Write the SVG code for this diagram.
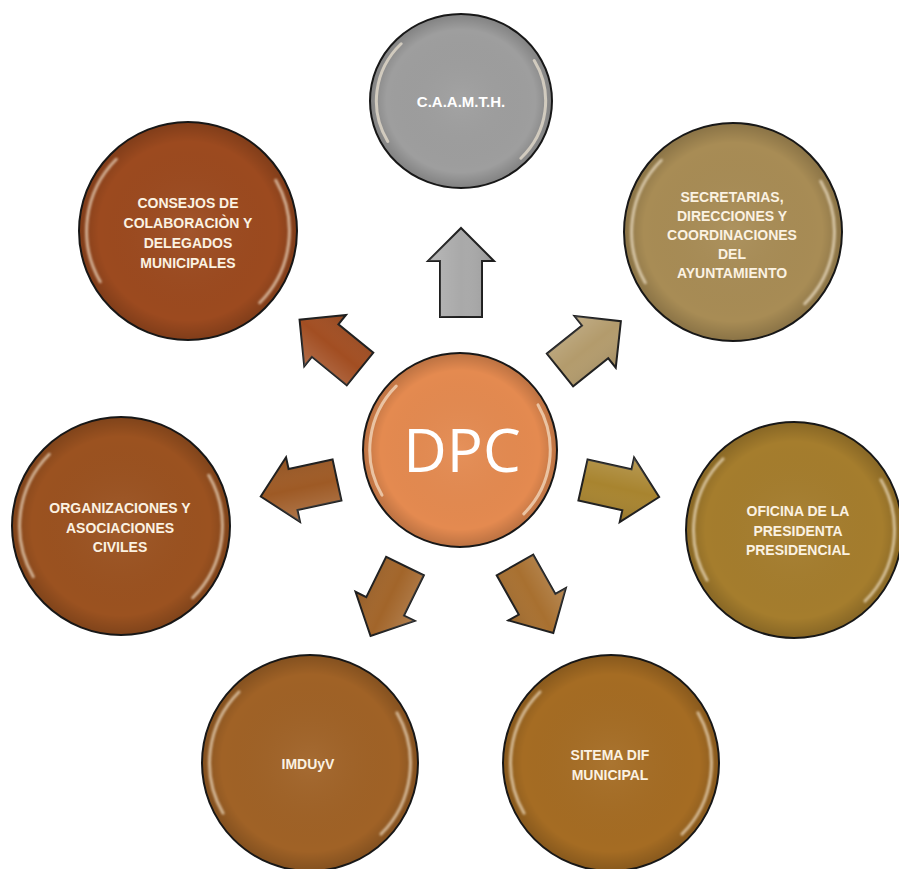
<svg xmlns="http://www.w3.org/2000/svg" xmlns:xlink="http://www.w3.org/1999/xlink" width="899" height="869" viewBox="0 0 899 869">
<defs>
<style>
.node{stroke:#1a1a1a;stroke-width:2}
.lbl{font-family:"Liberation Sans",Arial,sans-serif;font-size:14px;font-weight:bold;fill:#fbf2e2;text-anchor:middle}
.arrow{stroke:#1f1f1f;stroke-width:2;stroke-linejoin:miter}
.gloss{fill:none;stroke:#fff3df;stroke-opacity:0.6;stroke-width:3;stroke-linecap:round}
</style>
<radialGradient id="shade" cx="0.5" cy="0.5" r="0.5">
<stop offset="0" stop-color="#ffffff" stop-opacity="0.06"/>
<stop offset="0.82" stop-color="#000000" stop-opacity="0"/>
<stop offset="1" stop-color="#000000" stop-opacity="0.18"/>
</radialGradient>
<linearGradient id="sheen" x1="0" y1="0" x2="0" y2="1">
<stop offset="0" stop-color="#ffffff" stop-opacity="0.18"/>
<stop offset="0.5" stop-color="#ffffff" stop-opacity="0"/>
<stop offset="1" stop-color="#000000" stop-opacity="0.12"/>
</linearGradient>
<filter id="soft" x="-20%" y="-20%" width="140%" height="140%"><feGaussianBlur stdDeviation="0.8"/></filter>
<path id="glossArcs" d="M -80.5 46.5 A 93 93 0 0 1 -65.8 -65.8 M 80.5 -46.5 A 93 93 0 0 1 65.8 65.8" vector-effect="non-scaling-stroke"/>
<path id="arrowShort" d="M0,-21 L45,-21 L45,-33 L78,0 L45,33 L45,21 L0,21 Z"/>
<path id="arrowUp" d="M0,-21 L56,-21 L56,-33 L89,0 L56,33 L56,21 L0,21 Z"/>
</defs>
<rect width="899" height="869" fill="#ffffff"/>

<g id="connectors">
<g transform="translate(461,317) rotate(-90)"><use xlink:href="#arrowUp" class="arrow" fill="#a9a9a9"/><use xlink:href="#arrowUp" fill="url(#sheen)"/></g>
<g transform="translate(360,369) rotate(-140.8)"><use xlink:href="#arrowShort" class="arrow" fill="#a24e22"/><use xlink:href="#arrowShort" fill="url(#sheen)"/></g>
<g transform="translate(560,370) rotate(-38.7)"><use xlink:href="#arrowShort" class="arrow" fill="#b39b6c"/><use xlink:href="#arrowShort" fill="url(#sheen)"/></g>
<g transform="translate(337,480) rotate(167.8)"><use xlink:href="#arrowShort" class="arrow" fill="#9e5a25"/><use xlink:href="#arrowShort" fill="url(#sheen)"/></g>
<g transform="translate(583,480) rotate(12.6)"><use xlink:href="#arrowShort" class="arrow" fill="#a8842f"/><use xlink:href="#arrowShort" fill="url(#sheen)"/></g>
<g transform="translate(405,566) rotate(116.2)"><use xlink:href="#arrowShort" class="arrow" fill="#a2652a"/><use xlink:href="#arrowShort" fill="url(#sheen)"/></g>
<g transform="translate(515,565) rotate(60.6)"><use xlink:href="#arrowShort" class="arrow" fill="#a87030"/><use xlink:href="#arrowShort" fill="url(#sheen)"/></g>
</g>

<g id="node-caamth">
<ellipse cx="461" cy="101" rx="91" ry="87" class="node" fill="#9e9e9e"/>
<ellipse cx="461" cy="101" rx="91" ry="87" fill="url(#shade)"/>
<use xlink:href="#glossArcs" class="gloss" filter="url(#soft)" transform="translate(461,101) scale(0.91,0.87)"/>
<text class="lbl" x="461" y="107" style="font-size:15px;fill:#ffffff">C.A.A.M.T.H.</text>
</g>

<g id="node-consejos">
<circle cx="188" cy="231" r="109" class="node" fill="#9c4a1f"/>
<circle cx="188" cy="231" r="109" fill="url(#shade)"/>
<use xlink:href="#glossArcs" class="gloss" filter="url(#soft)" transform="translate(188,231) scale(1.09)"/>
<text class="lbl" x="188" y="208">CONSEJOS DE</text>
<text class="lbl" x="188" y="228">COLABORACIÒN Y</text>
<text class="lbl" x="188" y="248">DELEGADOS</text>
<text class="lbl" x="188" y="268">MUNICIPALES</text>
</g>

<g id="node-secretarias">
<circle cx="733" cy="232" r="109" class="node" fill="#a88c55"/>
<circle cx="733" cy="232" r="109" fill="url(#shade)"/>
<use xlink:href="#glossArcs" class="gloss" filter="url(#soft)" transform="translate(733,232) scale(1.09)"/>
<text class="lbl" x="732" y="202">SECRETARIAS,</text>
<text class="lbl" x="732" y="221">DIRECCIONES Y</text>
<text class="lbl" x="732" y="240">COORDINACIONES</text>
<text class="lbl" x="732" y="259">DEL</text>
<text class="lbl" x="732" y="278">AYUNTAMIENTO</text>
</g>

<g id="node-dpc">
<circle cx="460" cy="450" r="97" class="node" fill="#e48a50"/>
<circle cx="460" cy="450" r="97" fill="url(#shade)"/>
<use xlink:href="#glossArcs" class="gloss" filter="url(#soft)" transform="translate(460,450) scale(0.97)"/>
<text x="462" y="472" style="font-family:'Open Sans','Liberation Sans',sans-serif;font-size:60px;fill:#ffffff;text-anchor:middle">DPC</text>
</g>

<g id="node-organizaciones">
<circle cx="121" cy="526" r="109" class="node" fill="#9b5220"/>
<circle cx="121" cy="526" r="109" fill="url(#shade)"/>
<use xlink:href="#glossArcs" class="gloss" filter="url(#soft)" transform="translate(121,526) scale(1.09)"/>
<text class="lbl" x="120" y="513">ORGANIZACIONES Y</text>
<text class="lbl" x="120" y="533">ASOCIACIONES</text>
<text class="lbl" x="120" y="552">CIVILES</text>
</g>

<g id="node-oficina">
<circle cx="794" cy="530" r="108" class="node" fill="#a57d2d"/>
<circle cx="794" cy="530" r="108" fill="url(#shade)"/>
<use xlink:href="#glossArcs" class="gloss" filter="url(#soft)" transform="translate(794,530) scale(1.08)"/>
<text class="lbl" x="798" y="516">OFICINA DE LA</text>
<text class="lbl" x="798" y="536">PRESIDENTA</text>
<text class="lbl" x="798" y="555">PRESIDENCIAL</text>
</g>

<g id="node-imduyv">
<circle cx="310" cy="763" r="108" class="node" fill="#a06226"/>
<circle cx="310" cy="763" r="108" fill="url(#shade)"/>
<use xlink:href="#glossArcs" class="gloss" filter="url(#soft)" transform="translate(310,763) scale(1.08)"/>
<text class="lbl" x="308" y="769">IMDUyV</text>
</g>

<g id="node-sitema">
<circle cx="611" cy="763" r="108" class="node" fill="#a56c23"/>
<circle cx="611" cy="763" r="108" fill="url(#shade)"/>
<use xlink:href="#glossArcs" class="gloss" filter="url(#soft)" transform="translate(611,763) scale(1.08)"/>
<text class="lbl" x="610" y="760">SITEMA DIF</text>
<text class="lbl" x="610" y="780">MUNICIPAL</text>
</g>
</svg>
